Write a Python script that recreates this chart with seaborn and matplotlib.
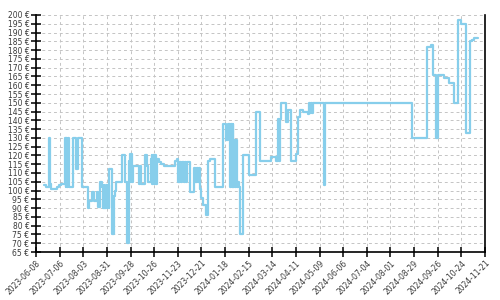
import matplotlib
matplotlib.use("Agg")
import matplotlib.pyplot as plt
import matplotlib.ticker as mticker
import seaborn as sns
import pandas as pd

dates = [
    "2023-06-18", "2023-06-20", "2023-06-23", "2023-06-25", "2023-06-26", "2023-07-03",
    "2023-07-05", "2023-07-08", "2023-07-12", "2023-07-13", "2023-07-14", "2023-07-15",
    "2023-07-16", "2023-07-17", "2023-07-22", "2023-07-25", "2023-07-28", "2023-08-01",
    "2023-08-09", "2023-08-10", "2023-08-13", "2023-08-16", "2023-08-19", "2023-08-21",
    "2023-08-23", "2023-08-25", "2023-08-26", "2023-08-27", "2023-08-28", "2023-08-30",
    "2023-08-31", "2023-09-01", "2023-09-02", "2023-09-03", "2023-09-06", "2023-09-09",
    "2023-09-10", "2023-09-11", "2023-09-18", "2023-09-21", "2023-09-24", "2023-09-26",
    "2023-09-27", "2023-09-28", "2023-09-29", "2023-09-30", "2023-10-01", "2023-10-08",
    "2023-10-09", "2023-10-10", "2023-10-15", "2023-10-17", "2023-10-19", "2023-10-22",
    "2023-10-23", "2023-10-24", "2023-10-25", "2023-10-26", "2023-10-27", "2023-10-28",
    "2023-10-29", "2023-11-01", "2023-11-03", "2023-11-07", "2023-11-20", "2023-11-22",
    "2023-11-23", "2023-11-24", "2023-11-25", "2023-11-26", "2023-11-27", "2023-11-28",
    "2023-11-30", "2023-12-01", "2023-12-03", "2023-12-04", "2023-12-05", "2023-12-08",
    "2023-12-12", "2023-12-13", "2023-12-14", "2023-12-15", "2023-12-16", "2023-12-17",
    "2023-12-18", "2023-12-19", "2023-12-21", "2023-12-23", "2023-12-26", "2023-12-29",
    "2023-12-31", "2024-01-06", "2024-01-16", "2024-01-19", "2024-01-22", "2024-01-24",
    "2024-01-25", "2024-01-26", "2024-01-27", "2024-01-28", "2024-01-29", "2024-01-30",
    "2024-01-31", "2024-02-01", "2024-02-02", "2024-02-04", "2024-02-05", "2024-02-08",
    "2024-02-15", "2024-02-24", "2024-02-28", "2024-03-13", "2024-03-18", "2024-03-21",
    "2024-03-22", "2024-03-23", "2024-03-24", "2024-03-30", "2024-04-01", "2024-04-05",
    "2024-04-11", "2024-04-14", "2024-04-16", "2024-04-19", "2024-04-25", "2024-04-27",
    "2024-04-28", "2024-04-29", "2024-04-30", "2024-05-01", "2024-05-14", "2024-05-16",
    "2024-08-27", "2024-09-13", "2024-09-18", "2024-09-20", "2024-09-24", "2024-09-26",
    "2024-10-03", "2024-10-09", "2024-10-15", "2024-10-20", "2024-10-23", "2024-10-24",
    "2024-10-29", "2024-10-30", "2024-11-03", "2024-11-06", "2024-11-08", "2024-11-13",
]
prices = [
    103, 102, 130, 104, 101, 102,
    103, 104, 130, 102, 130, 102,
    130, 102, 130, 112, 130, 102,
    90, 94, 99, 94, 99, 90.5,
    105, 102, 90, 103, 90, 103,
    90, 103, 90, 112, 75, 97,
    100, 105, 120, 105, 70, 117,
    121, 105, 121, 105, 114, 104,
    114, 104, 120, 114, 105, 118,
    120, 104, 120, 104, 120, 104,
    118, 116, 115, 114, 117, 118,
    105, 116, 105, 116, 105, 116,
    105, 116, 105, 116, 116, 99,
    113, 105, 113, 105, 113, 105,
    113, 101, 96, 92, 86, 117,
    118, 102, 138, 129, 138, 102,
    138, 102, 138, 102, 129, 102,
    129, 102, 105, 102, 75, 120,
    109, 145, 117, 119, 117, 141,
    117, 141, 150, 139, 146, 117,
    121, 142, 146, 144.5, 143.5, 150,
    144, 150, 144, 150, 103, 150,
    130, 182, 183, 166, 130, 166,
    164, 161.5, 150, 197, 196, 195,
    186, 133, 185, 186, 187, 187,
]
y_ticks = list(range(65, 201, 5))
x_tick_start = "2023-06-08"
x_tick_end = "2024-11-21"

df = pd.DataFrame({"date": pd.to_datetime(dates), "price": prices})

sns.set_theme(style="white")
plt.rcParams["font.family"] = ["DejaVu Sans"]

fig = plt.figure(figsize=(5, 3), dpi=100)
ax = fig.add_axes([0.072, 0.16, 0.898, 0.79])

sns.lineplot(data=df, x="date", y="price", ax=ax, estimator=None, sort=False,
             drawstyle="steps-post", color="#87CEEB", linewidth=1.6)

xticks = pd.date_range(x_tick_start, x_tick_end, freq="28D")
ax.set_xlim(pd.Timestamp(x_tick_start), pd.Timestamp(x_tick_end))
ax.set_xticks(xticks)
ax.set_xticklabels([d.strftime("%Y-%m-%d") for d in xticks], rotation=45,
                   ha="right", rotation_mode="anchor")
ax.set_ylim(65, 200)
ax.set_yticks(y_ticks)
ax.yaxis.set_major_formatter(mticker.FuncFormatter(lambda v, p: f"{int(v)} €"))

ax.set_xlabel("")
ax.set_ylabel("")
ax.grid(True, color="#c4c4c4", linestyle=(0, (3, 3)), linewidth=0.7)
ax.set_axisbelow(True)

for s in ["left", "bottom", "right"]:
    ax.spines[s].set_visible(True)
    ax.spines[s].set_color("black")
    ax.spines[s].set_linewidth(1.2)
ax.spines["top"].set_visible(False)

ax.tick_params(axis="both", which="major", direction="inout", length=6.5, width=1.1,
               color="black", labelsize=5.5, labelcolor="#3a3a3a", pad=1.5,
               left=True, bottom=True)

fig.savefig("out.png", dpi=100)
